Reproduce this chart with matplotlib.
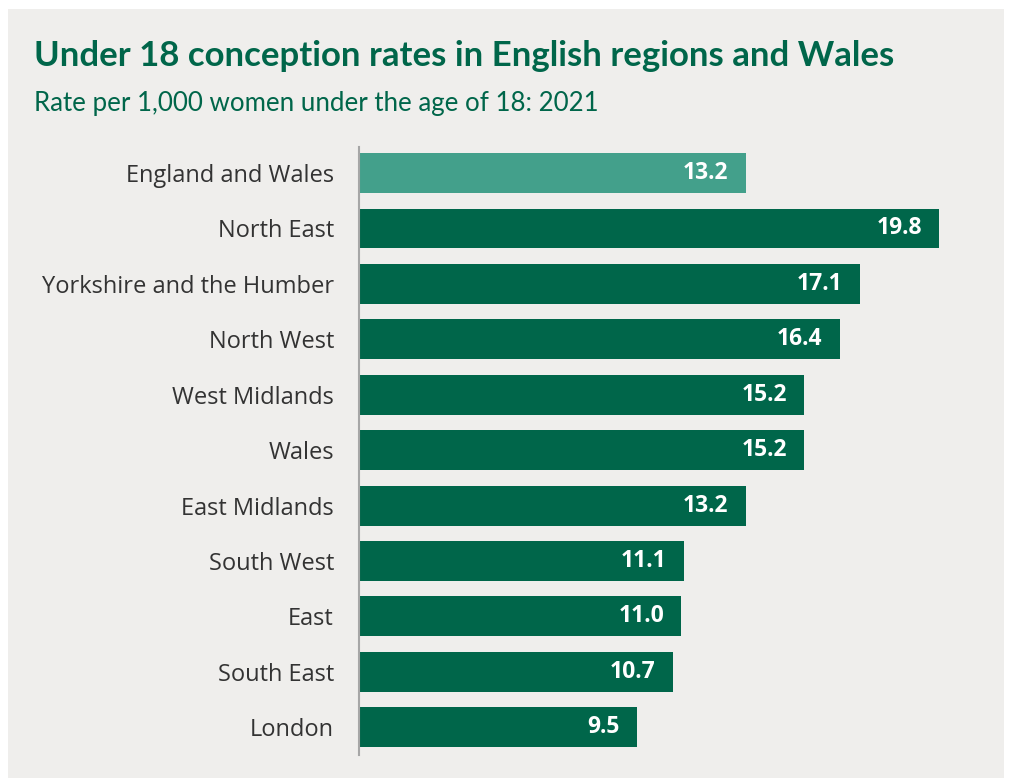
import matplotlib.pyplot as plt
from matplotlib.patches import Rectangle

regions = ["England and Wales", "North East", "Yorkshire and the Humber", "North West",
           "West Midlands", "Wales", "East Midlands", "South West", "East",
           "South East", "London"]
rates = [13.2, 19.8, 17.1, 16.4, 15.2, 15.2, 13.2, 11.1, 11.0, 10.7, 9.5]
highlight = "England and Wales"

DARK_GREEN = "#00664a"
LIGHT_GREEN = "#43a08b"
PANEL = "#efeeec"

plt.rcParams["font.family"] = ["Open Sans", "DejaVu Sans"]

fig = plt.figure(figsize=(10.1, 7.78), dpi=100)
fig.patch.set_facecolor("white")
fig.add_artist(Rectangle((8 / 1010, 0), 996 / 1010, 769 / 778, transform=fig.transFigure,
                         facecolor=PANEL, edgecolor="none", zorder=0))

fig.text(34 / 1010, 1 - 56 / 778, "Under 18 conception rates in English regions and Wales",
         fontsize=25, fontweight="bold", color=DARK_GREEN, family=["Lato", "DejaVu Sans"],
         va="center", ha="left")
fig.text(34 / 1010, 1 - 104 / 778, "Rate per 1,000 women under the age of 18: 2021",
         fontsize=18.6, color=DARK_GREEN, family=["Lato", "DejaVu Sans"],
         va="center", ha="left")

xmax = 20.5
ax = fig.add_axes([359 / 1010, 23 / 778, 29.3 * xmax / 1010, 608 / 778])
ax.set_facecolor("none")

colors = [LIGHT_GREEN if r == highlight else DARK_GREEN for r in regions]
ypos = list(range(len(regions)))
bars = ax.barh(ypos, rates, height=0.72, color=colors, zorder=2)

for bar, val in zip(bars, rates):
    ax.annotate(f"{val:.1f}", xy=(bar.get_width(), bar.get_y() + bar.get_height() / 2),
                xytext=(-12.5, 0), textcoords="offset points", ha="right", va="center",
                color="white", fontweight="bold", fontsize=16.5, zorder=3)

ax.set_xlim(0, xmax)
ax.set_ylim(10.5, -0.47)
ax.set_yticks(ypos)
ax.set_yticklabels(regions, fontsize=17, color="#333333")
ax.tick_params(axis="y", length=0, pad=18)
ax.set_xticks([])
for side in ["top", "right", "bottom"]:
    ax.spines[side].set_visible(False)
ax.spines["left"].set_color("#a6a6a6")
ax.spines["left"].set_linewidth(1.5)

fig.savefig("out.png", dpi=100, facecolor=fig.get_facecolor())
